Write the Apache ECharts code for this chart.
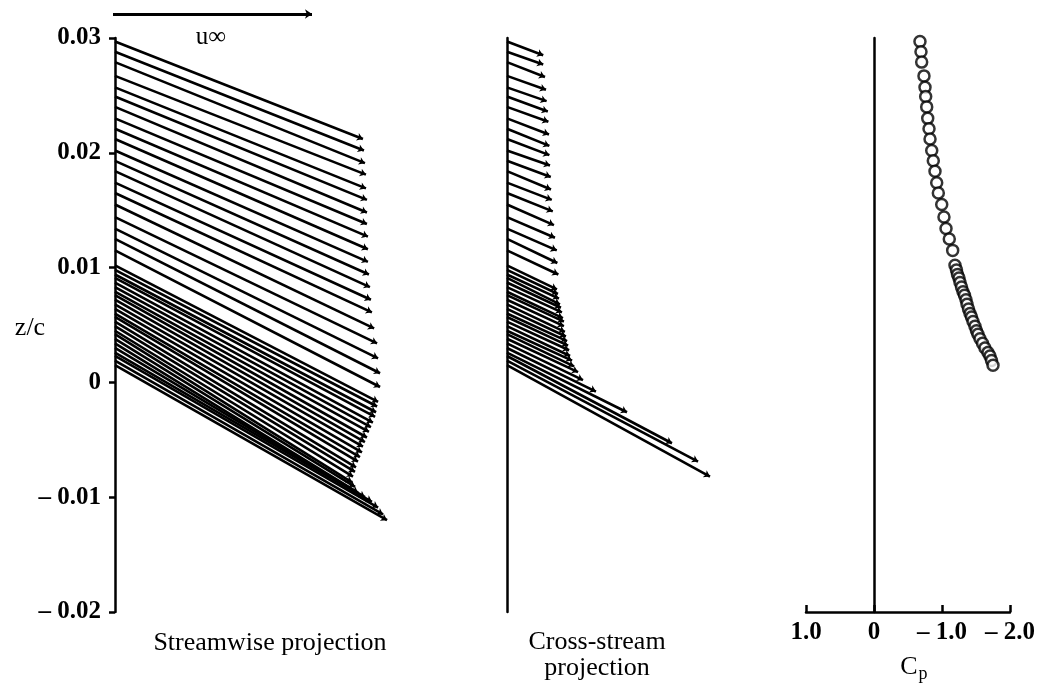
<!DOCTYPE html>
<html>
<head>
<meta charset="utf-8">
<script src="https://cdn.jsdelivr.net/npm/echarts@6/dist/echarts.min.js"></script>
<style>
  html, body { margin: 0; padding: 0; background: #fff; }
  #chart { width: 1045px; height: 691px; }
</style>
</head>
<body>
<div id="chart"></div>
<script>
// measurement stations, z/c (shared by all three panels)
const zStations = [
  0.0297, 0.0288, 0.0279, 0.0267, 0.0257, 0.0249, 0.0240, 0.0230, 0.0221, 0.0212,
  0.0202, 0.0193, 0.0184, 0.0174, 0.0165, 0.0155, 0.0144, 0.0134, 0.0125, 0.0115,
  0.0102, 0.0098, 0.0094, 0.0091, 0.0087, 0.0083, 0.0079, 0.0076, 0.0072, 0.0068,
  0.0064, 0.0060, 0.0057, 0.0053, 0.0049, 0.0045, 0.0042, 0.0038, 0.0034, 0.0030,
  0.0026, 0.0023, 0.0019, 0.0015
];

// streamwise projection: arrow tip (u / u_inf, z/c)
const streamU = [
  1.246, 1.251, 1.256, 1.261, 1.261, 1.266, 1.266, 1.266, 1.271, 1.271,
  1.271, 1.276, 1.281, 1.286, 1.291, 1.302, 1.317, 1.322, 1.332, 1.332,
  1.322, 1.317, 1.312, 1.307, 1.296, 1.286, 1.276, 1.266, 1.256, 1.246,
  1.241, 1.231, 1.221, 1.211, 1.206, 1.196, 1.191, 1.206, 1.221, 1.256,
  1.291, 1.322, 1.347, 1.367
];
const streamZEnd = [
  0.0212, 0.0202, 0.0191, 0.0181, 0.0169, 0.0159, 0.0148, 0.0138, 0.0127, 0.0116,
  0.0105, 0.0094, 0.0083, 0.0072, 0.0061, 0.0047, 0.0034, 0.0021, 0.0008, -0.0004,
  -0.0017, -0.0021, -0.0026, -0.0030, -0.0035, -0.0039, -0.0043, -0.0048, -0.0052, -0.0056,
  -0.0061, -0.0065, -0.0069, -0.0074, -0.0078, -0.0082, -0.0087, -0.0091, -0.0096, -0.0100,
  -0.0104, -0.0109, -0.0115, -0.0120
];

// cross-stream projection: arrow tip (v / u_inf, z/c)
const crossV = [
  0.182, 0.182, 0.191, 0.196, 0.199, 0.205, 0.208, 0.211, 0.213, 0.213,
  0.216, 0.220, 0.221, 0.225, 0.230, 0.236, 0.241, 0.250, 0.253, 0.258,
  0.251, 0.256, 0.261, 0.266, 0.271, 0.276, 0.281, 0.286, 0.286, 0.291,
  0.296, 0.302, 0.307, 0.312, 0.317, 0.327, 0.337, 0.357, 0.382, 0.447,
  0.603, 0.829, 0.960, 1.020
];
const crossZEnd = [
  0.0285, 0.0277, 0.0266, 0.0255, 0.0245, 0.0236, 0.0227, 0.0216, 0.0206, 0.0198,
  0.0189, 0.0179, 0.0168, 0.0159, 0.0149, 0.0137, 0.0126, 0.0115, 0.0104, 0.0094,
  0.0081, 0.0077, 0.0073, 0.0068, 0.0065, 0.0061, 0.0056, 0.0053, 0.0049, 0.0044,
  0.0040, 0.0036, 0.0032, 0.0028, 0.0023, 0.0019, 0.0014, 0.0009, 0.0002, -0.0008,
  -0.0026, -0.0053, -0.0069, -0.0082
];

// pressure coefficient at each station
const cpValues = [
  -0.676, -0.691, -0.701, -0.735, -0.750, -0.760, -0.775, -0.790, -0.809, -0.824,
  -0.849, -0.872, -0.897, -0.922, -0.946, -0.996, -1.029, -1.059, -1.107, -1.157,
  -1.191, -1.213, -1.228, -1.250, -1.265, -1.287, -1.309, -1.331, -1.353, -1.368,
  -1.390, -1.412, -1.434, -1.456, -1.485, -1.507, -1.529, -1.559, -1.596, -1.632,
  -1.676, -1.706, -1.728, -1.750
];

// free-stream reference arrow (u / u_inf)
const uInfArrow = [[0, 0], [1, 0]];

const FONT = '"Liberation Serif", "DejaVu Serif", serif';

function zLabel(v) {
  if (Math.abs(v) < 1e-9) return '0';
  if (v < 0) return '\u2013 ' + Math.abs(v).toFixed(2);
  return v.toFixed(2);
}
function cpLabel(v) {
  if (Math.abs(v) < 1e-9) return '0';
  if (v < 0) return '\u2013 ' + Math.abs(v).toFixed(1);
  return v.toFixed(1);
}

const streamLines = zStations.map((z, i) => ({ coords: [[0, z], [streamU[i], streamZEnd[i]]] }));
const crossLines = zStations.map((z, i) => ({ coords: [[0, z], [crossV[i], crossZEnd[i]]] }));
const cpPoints = zStations.map((z, i) => [cpValues[i], z]);

const myChart = echarts.init(document.getElementById('chart'));

const hiddenX = { type: 'value', min: 0, max: 2, show: false };
const zAxisBase = { type: 'value', min: -0.02, max: 0.03, interval: 0.01, splitLine: { show: false } };

const option = {
  backgroundColor: '#fff',
  animation: false,
  grid: [
    { left: 115, top: 38, width: 398, height: 574 },
    { left: 507, top: 38, width: 398, height: 574 },
    { left: 806, top: 38, width: 204, height: 574 },
    { left: 113, top: 4, width: 398, height: 20 }
  ],
  xAxis: [
    Object.assign({ gridIndex: 0 }, hiddenX),
    Object.assign({ gridIndex: 1 }, hiddenX),
    {
      gridIndex: 2, type: 'value', min: -2, max: 1, interval: 1, inverse: true,
      axisLine: { show: true, onZero: false, lineStyle: { color: '#000', width: 2.5 } },
      axisTick: { show: true, inside: true, length: 7, lineStyle: { color: '#000', width: 2.5 } },
      axisLabel: { color: '#000', fontFamily: FONT, fontSize: 25, fontWeight: 'bold', margin: 8, formatter: cpLabel },
      splitLine: { show: false }
    },
    Object.assign({ gridIndex: 3 }, hiddenX)
  ],
  yAxis: [
    Object.assign({}, zAxisBase, {
      gridIndex: 0,
      axisLine: { show: true, onZero: false, lineStyle: { color: '#000', width: 2.5 } },
      axisTick: { show: true, length: 6, lineStyle: { color: '#000', width: 2.5 } },
      axisLabel: { color: '#000', fontFamily: FONT, fontSize: 25, fontWeight: 'bold', margin: 14, formatter: zLabel }
    }),
    Object.assign({}, zAxisBase, {
      gridIndex: 1,
      axisLine: { show: true, onZero: false, lineStyle: { color: '#000', width: 2.5 } },
      axisTick: { show: false }, axisLabel: { show: false }
    }),
    Object.assign({}, zAxisBase, {
      gridIndex: 2,
      axisLine: { show: true, onZero: true, lineStyle: { color: '#000', width: 2.5 } },
      axisTick: { show: false }, axisLabel: { show: false }
    }),
    { gridIndex: 3, type: 'value', min: -1, max: 1, show: false }
  ],
  series: [
    {
      name: 'Streamwise', type: 'lines', coordinateSystem: 'cartesian2d',
      xAxisIndex: 0, yAxisIndex: 0,
      symbol: ['none', 'arrow'], symbolSize: 6,
      lineStyle: { color: '#000', width: 2.6, opacity: 1 },
      data: streamLines
    },
    {
      name: 'Cross-stream', type: 'lines', coordinateSystem: 'cartesian2d',
      xAxisIndex: 1, yAxisIndex: 1,
      symbol: ['none', 'arrow'], symbolSize: 6,
      lineStyle: { color: '#000', width: 2.6, opacity: 1 },
      data: crossLines
    },
    {
      name: 'Cp', type: 'scatter', xAxisIndex: 2, yAxisIndex: 2,
      symbol: 'circle', symbolSize: 11,
      itemStyle: { color: '#fff', borderColor: '#000', borderWidth: 2.5 },
      data: cpPoints
    },
    {
      name: 'u_inf', type: 'lines', coordinateSystem: 'cartesian2d',
      xAxisIndex: 3, yAxisIndex: 3,
      symbol: ['none', 'arrow'], symbolSize: 7,
      lineStyle: { color: '#000', width: 3, opacity: 1 },
      data: [{ coords: uInfArrow }]
    }
  ],
  graphic: [
    { type: 'text', x: 211, y: 37, style: { text: 'u\u221e', font: '25px ' + FONT, fill: '#000', textAlign: 'center', textVerticalAlign: 'middle' } },
    { type: 'text', x: 30, y: 328, style: { text: 'z/c', font: '26px ' + FONT, fill: '#000', textAlign: 'center', textVerticalAlign: 'middle' } },
    { type: 'text', x: 270, y: 643, style: { text: 'Streamwise projection', font: '26px ' + FONT, fill: '#000', textAlign: 'center', textVerticalAlign: 'middle' } },
    { type: 'text', x: 597, y: 642, style: { text: 'Cross-stream', font: '26px ' + FONT, fill: '#000', textAlign: 'center', textVerticalAlign: 'middle' } },
    { type: 'text', x: 597, y: 668, style: { text: 'projection', font: '26px ' + FONT, fill: '#000', textAlign: 'center', textVerticalAlign: 'middle' } },
    { type: 'text', x: 909, y: 667, style: { text: 'C', font: '26px ' + FONT, fill: '#000', textAlign: 'center', textVerticalAlign: 'middle' } },
    { type: 'text', x: 923, y: 674, style: { text: 'p', font: '18px ' + FONT, fill: '#000', textAlign: 'center', textVerticalAlign: 'middle' } }
  ]
};

myChart.setOption(option);
window.onresize = () => { myChart.resize(); };
</script>
</body>
</html>
